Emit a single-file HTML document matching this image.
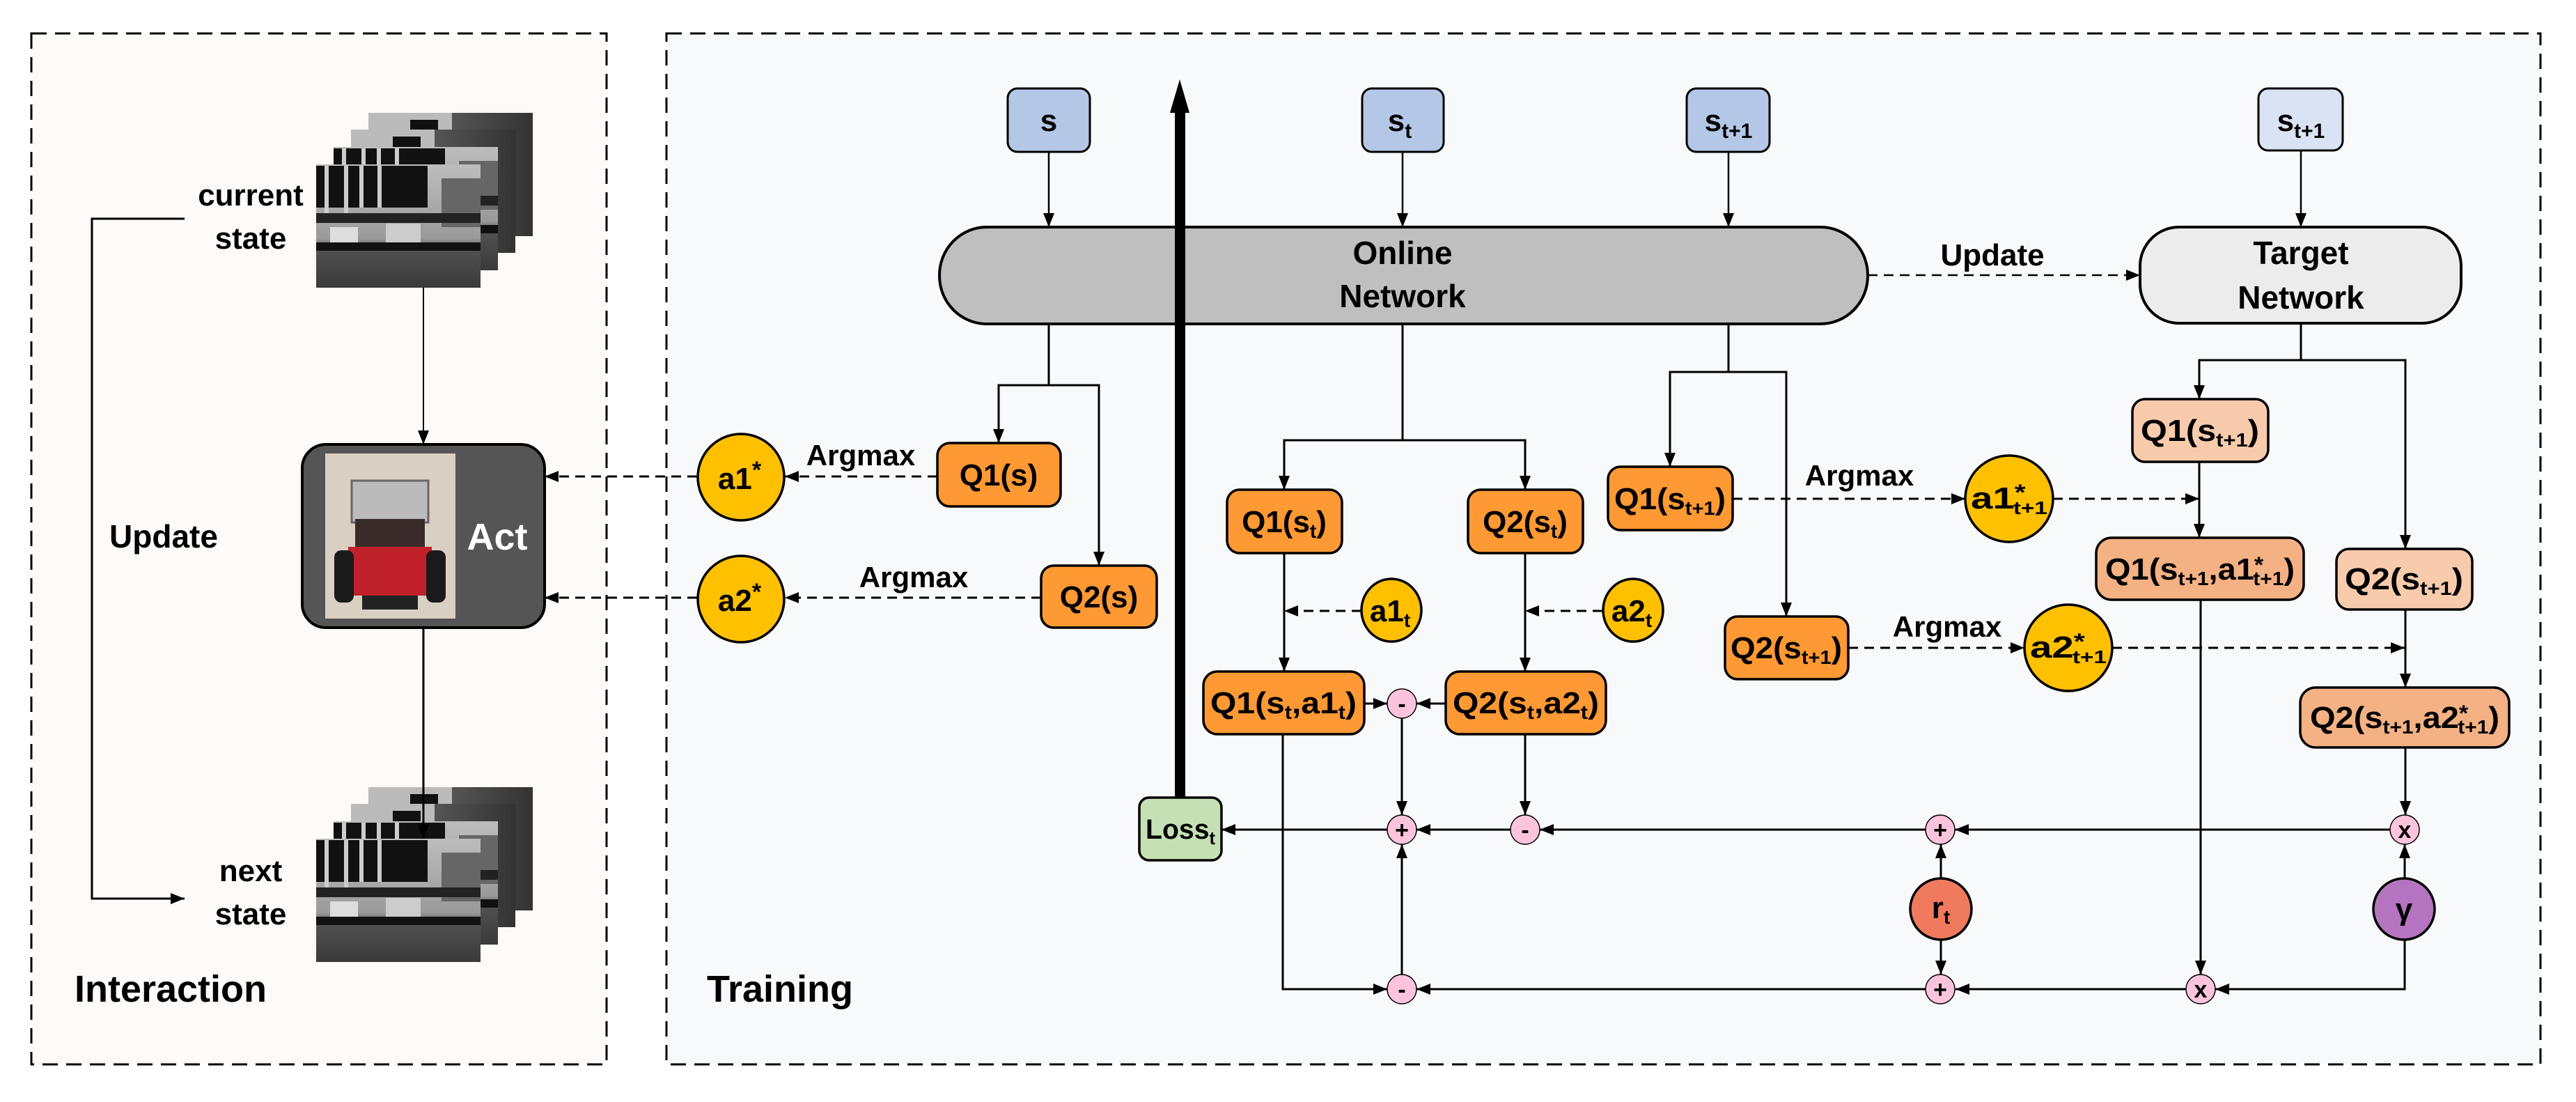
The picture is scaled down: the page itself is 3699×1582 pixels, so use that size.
<!DOCTYPE html>
<html><head><meta charset="utf-8"><style>html,body{margin:0;padding:0;background:#fff}svg{display:block}text{font-family:"Liberation Sans",sans-serif;font-weight:bold;fill:#000}</style></head><body>
<svg xmlns="http://www.w3.org/2000/svg" width="3699" height="1582" viewBox="0 0 3699 1582">
<defs>
<marker id="ah" viewBox="0 0 20 16" refX="20" refY="8" markerWidth="20" markerHeight="16" markerUnits="userSpaceOnUse" orient="auto"><path d="M0,0 L20,8 L0,16 z" fill="#000"/></marker>
<linearGradient id="fg" x1="0" y1="0" x2="0" y2="1"><stop offset="0" stop-color="#bdbdbd"/><stop offset="0.6" stop-color="#9a9a9a"/><stop offset="0.7" stop-color="#505050"/><stop offset="1" stop-color="#3a3a3a"/></linearGradient>
<linearGradient id="bg2" x1="0" y1="0" x2="1" y2="0"><stop offset="0" stop-color="#777"/><stop offset="1" stop-color="#333"/></linearGradient>
<g id="frame"><rect width="236" height="177" fill="url(#fg)"/><rect x="0" y="2" width="160" height="60" fill="#111"/><rect x="12" y="2" width="6" height="70" fill="#ccc"/><rect x="40" y="2" width="6" height="70" fill="#ccc"/><rect x="62" y="2" width="6" height="60" fill="#ccc"/><rect x="88" y="2" width="6" height="60" fill="#ccc"/><rect x="180" y="20" width="56" height="70" fill="#666"/><rect x="0" y="70" width="236" height="14" fill="#222"/><rect x="20" y="90" width="40" height="25" fill="#ddd"/><rect x="100" y="85" width="50" height="30" fill="#ccc"/><rect x="0" y="112" width="236" height="12" fill="#111"/></g>
<g id="back"><rect width="236" height="177" fill="url(#bg2)"/><rect width="120" height="60" fill="#bbb"/><rect x="60" y="10" width="40" height="15" fill="#111"/></g>
</defs>
<!-- panels -->
<rect x="45" y="48" width="826" height="1480" fill="#fdfaf7" stroke="#000" stroke-width="3" stroke-dasharray="22 12"/>
<rect x="957" y="48" width="2691" height="1480" fill="#f8f9fb" stroke="#000" stroke-width="3" stroke-dasharray="22 12"/>

<!-- state stacks -->
<use href="#back" x="529" y="162"/><use href="#back" x="504" y="186"/><use href="#frame" x="479" y="211"/><use href="#frame" x="454" y="236"/>
<use href="#back" x="529" y="1130"/><use href="#back" x="504" y="1154"/><use href="#frame" x="479" y="1179"/><use href="#frame" x="454" y="1204"/>
<text x="360" y="295" font-size="44" text-anchor="middle">current</text>
<text x="360" y="357" font-size="44" text-anchor="middle">state</text>
<text x="360" y="1265" font-size="44" text-anchor="middle">next</text>
<text x="360" y="1327" font-size="44" text-anchor="middle">state</text>
<text x="235" y="786" font-size="46" text-anchor="middle">Update</text>
<text x="245" y="1438" font-size="54" text-anchor="middle">Interaction</text>
<text x="1120" y="1438" font-size="54" text-anchor="middle">Training</text>
<polyline points="265,314 132,314 132,1290 265,1290" fill="none" stroke="#000" stroke-width="3" marker-end="url(#ah)"/>
<line x1="608" y1="413" x2="608" y2="638" stroke="#000" stroke-width="2" marker-end="url(#ah)"/>
<line x1="608" y1="901" x2="608" y2="1204" stroke="#000" stroke-width="3" marker-end="url(#ah)"/>
<!-- Act -->
<rect x="434" y="638" width="348" height="263" rx="34" fill="#555" stroke="#000" stroke-width="4"/>
<rect x="467" y="651" width="187" height="237" fill="#d9cfc3"/>
<rect x="505" y="690" width="110" height="60" fill="#bbb" stroke="#666" stroke-width="3"/>
<rect x="510" y="745" width="100" height="40" fill="#3a2a2a"/>
<rect x="500" y="785" width="120" height="70" fill="#c0202a"/>
<rect x="480" y="790" width="28" height="75" rx="10" fill="#1a1a1a"/>
<rect x="612" y="790" width="28" height="75" rx="10" fill="#1a1a1a"/>
<rect x="520" y="855" width="80" height="20" fill="#222"/>
<text x="714" y="789" font-size="54" text-anchor="middle" fill="#fff" style="fill:#fff">Act</text>

<!-- input boxes -->
<g stroke="#000" stroke-width="3">
<rect x="1447" y="127" width="118" height="91" rx="14" fill="#b4c7e7"/>
<rect x="1956" y="127" width="117" height="91" rx="14" fill="#b4c7e7"/>
<rect x="2422" y="127" width="119" height="91" rx="14" fill="#b4c7e7"/>
<rect x="3243" y="127" width="121" height="89" rx="14" fill="#dae3f3"/>
</g>
<text x="1506" y="188" font-size="44" text-anchor="middle">s</text>
<text x="2010" y="188" font-size="44" text-anchor="middle">s<tspan font-size="30" dy="10">t</tspan></text>
<text x="2482" y="188" font-size="44" text-anchor="middle">s<tspan font-size="30" dy="10">t+1</tspan></text>
<text x="3304" y="188" font-size="44" text-anchor="middle">s<tspan font-size="30" dy="10">t+1</tspan></text>

<g stroke="#000" stroke-width="2.5" fill="none">
<line x1="1506" y1="218" x2="1506" y2="326" marker-end="url(#ah)"/>
<line x1="2014" y1="218" x2="2014" y2="326" marker-end="url(#ah)"/>
<line x1="2482" y1="218" x2="2482" y2="326" marker-end="url(#ah)"/>
<line x1="3304" y1="216" x2="3304" y2="326" marker-end="url(#ah)"/>
</g>
<!-- networks -->
<rect x="1349" y="326" width="1333" height="139" rx="68" ry="69" fill="#bfbfbf" stroke="#000" stroke-width="4"/>
<rect x="3073" y="326" width="461" height="138" rx="56" fill="#ececec" stroke="#000" stroke-width="4"/>
<text x="2014" y="379" font-size="46" text-anchor="middle">Online</text>
<text x="2014" y="441" font-size="46" text-anchor="middle">Network</text>
<text x="3304" y="379" font-size="46" text-anchor="middle">Target</text>
<text x="3304" y="443" font-size="46" text-anchor="middle">Network</text>
<line x1="2682" y1="395" x2="3073" y2="395" stroke="#000" stroke-width="2.5" stroke-dasharray="14 9" marker-end="url(#ah)"/>
<text x="2861" y="381" font-size="44" text-anchor="middle">Update</text>

<!-- thick arrow -->
<rect x="1687" y="155" width="15" height="990" fill="#000"/>
<path d="M1680,162 L1694,114 L1708,162 z" fill="#000"/>

<!-- branches -->
<g stroke="#000" stroke-width="3" fill="none">
<polyline points="1506,465 1506,553 1434,553 1434,636" marker-end="url(#ah)"/>
<polyline points="1506,553 1578,553 1578,812" marker-end="url(#ah)"/>
<polyline points="2014,465 2014,632 1844,632 1844,703" marker-end="url(#ah)"/>
<polyline points="2014,632 2190,632 2190,703" marker-end="url(#ah)"/>
<polyline points="2482,465 2482,534 2398,534 2398,670" marker-end="url(#ah)"/>
<polyline points="2482,534 2565,534 2565,885" marker-end="url(#ah)"/>
<polyline points="3304,464 3304,517 3158,517 3158,573" marker-end="url(#ah)"/>
<polyline points="3304,517 3454,517 3454,788" marker-end="url(#ah)"/>
<line x1="1844" y1="794" x2="1844" y2="964" marker-end="url(#ah)"/>
<line x1="2190" y1="794" x2="2190" y2="964" marker-end="url(#ah)"/>
<line x1="3158" y1="663" x2="3158" y2="772" marker-end="url(#ah)"/>
<line x1="3454" y1="875" x2="3454" y2="987" marker-end="url(#ah)"/>
<line x1="3454" y1="1073" x2="3454" y2="1170" marker-end="url(#ah)"/>
<line x1="3160" y1="861" x2="3160" y2="1399" marker-end="url(#ah)"/>
<line x1="1959" y1="1010" x2="1992" y2="1010" marker-end="url(#ah)"/>
<line x1="2076" y1="1010" x2="2034" y2="1010" marker-end="url(#ah)"/>
<line x1="2013" y1="1031" x2="2013" y2="1170" marker-end="url(#ah)"/>
<line x1="2190" y1="1054" x2="2190" y2="1170" marker-end="url(#ah)"/>
<line x1="3432" y1="1191" x2="2807" y2="1191" marker-end="url(#ah)"/>
<line x1="2765" y1="1191" x2="2211" y2="1191" marker-end="url(#ah)"/>
<line x1="2169" y1="1191" x2="2034" y2="1191" marker-end="url(#ah)"/>
<line x1="1992" y1="1191" x2="1754" y2="1191" marker-end="url(#ah)"/>
<line x1="2787" y1="1261" x2="2787" y2="1212" marker-end="url(#ah)"/>
<line x1="2787" y1="1349" x2="2787" y2="1399" marker-end="url(#ah)"/>
<line x1="3453" y1="1261" x2="3453" y2="1212" marker-end="url(#ah)"/>
<polyline points="3453,1349 3453,1420 3181,1420" marker-end="url(#ah)"/>
<line x1="3139" y1="1420" x2="2808" y2="1420" marker-end="url(#ah)"/>
<line x1="2765" y1="1420" x2="2034" y2="1420" marker-end="url(#ah)"/>
<polyline points="1842,1054 1842,1420 1992,1420" marker-end="url(#ah)"/>
<line x1="2013" y1="1399" x2="2013" y2="1212" marker-end="url(#ah)"/>
</g>
<!-- dashed -->
<g stroke="#000" stroke-width="3" fill="none" stroke-dasharray="14 9">
<line x1="1346" y1="684" x2="1127" y2="684" marker-end="url(#ah)"/>
<line x1="1001" y1="684" x2="782" y2="684" marker-end="url(#ah)"/>
<line x1="1495" y1="858" x2="1127" y2="858" marker-end="url(#ah)"/>
<line x1="1001" y1="858" x2="782" y2="858" marker-end="url(#ah)"/>
<line x1="1955" y1="877" x2="1844" y2="877" marker-end="url(#ah)"/>
<line x1="2301" y1="877" x2="2190" y2="877" marker-end="url(#ah)"/>
<line x1="2488" y1="716" x2="2822" y2="716" marker-end="url(#ah)"/>
<line x1="2948" y1="716" x2="3158" y2="716" marker-end="url(#ah)"/>
<line x1="2654" y1="930" x2="2907" y2="930" marker-end="url(#ah)"/>
<line x1="3033" y1="930" x2="3453" y2="930" marker-end="url(#ah)"/>
</g>
<text x="1236" y="668" font-size="42" text-anchor="middle">Argmax</text>
<text x="1312" y="843" font-size="42" text-anchor="middle">Argmax</text>
<text x="2670" y="697" font-size="42" text-anchor="middle">Argmax</text>
<text x="2796" y="914" font-size="42" text-anchor="middle">Argmax</text>

<!-- Q nodes -->
<g stroke="#000" stroke-width="3.5">
<rect x="1346" y="636" width="177" height="91" rx="18" fill="#ff9933"/>
<rect x="1495" y="812" width="166" height="89" rx="18" fill="#ff9933"/>
<rect x="1762" y="703" width="165" height="91" rx="18" fill="#ff9933"/>
<rect x="2108" y="703" width="165" height="91" rx="18" fill="#ff9933"/>
<rect x="2309" y="670" width="179" height="91" rx="18" fill="#ff9933"/>
<rect x="2477" y="885" width="177" height="90" rx="18" fill="#ff9933"/>
<rect x="1728" y="964" width="231" height="90" rx="20" fill="#ff9933"/>
<rect x="2076" y="964" width="230" height="90" rx="20" fill="#ff9933"/>
<rect x="3062" y="573" width="195" height="90" rx="18" fill="#f8cbad"/>
<rect x="3010" y="772" width="298" height="89" rx="22" fill="#f4b183"/>
<rect x="3355" y="788" width="195" height="87" rx="18" fill="#f8cbad"/>
<rect x="3303" y="987" width="300" height="86" rx="22" fill="#f4b183"/>
<rect x="1636" y="1145" width="118" height="90" rx="14" fill="#c5e0b4"/>
<ellipse cx="1064" cy="685" rx="62" ry="62" fill="#ffc000"/>
<ellipse cx="1064" cy="860" rx="62" ry="62" fill="#ffc000"/>
<ellipse cx="1998" cy="876" rx="43" ry="45" fill="#ffc000"/>
<ellipse cx="2345" cy="876" rx="43" ry="45" fill="#ffc000"/>
<ellipse cx="2885" cy="716" rx="63" ry="62" fill="#ffc000"/>
<ellipse cx="2970" cy="930" rx="63" ry="62" fill="#ffc000"/>
<circle cx="2787" cy="1305" r="44" fill="#f07a5e"/>
<circle cx="3452" cy="1305" r="44" fill="#b574c0"/>
</g>
<g stroke="#000" stroke-width="1.5" fill="#fbc4dc">
<circle cx="2013" cy="1010" r="21"/><circle cx="2013" cy="1191" r="21"/><circle cx="2190" cy="1191" r="21"/>
<circle cx="2786" cy="1191" r="21"/><circle cx="3453" cy="1191" r="21"/><circle cx="2013" cy="1420" r="21"/>
<circle cx="2786" cy="1420" r="21"/><circle cx="3160" cy="1420" r="21"/>
</g>
<g font-size="34" text-anchor="middle">
<text x="2013" y="1022">-</text><text x="2013" y="1203">+</text><text x="2190" y="1203">-</text><text x="2786" y="1203">+</text>
<text x="3453" y="1203">x</text><text x="2013" y="1432">-</text><text x="2786" y="1432">+</text><text x="3160" y="1432">x</text>
</g>
<g font-size="44" text-anchor="middle">
<text x="1434" y="697">Q1(s)</text>
<text x="1578" y="872">Q2(s)</text>
<text x="1844" y="764">Q1(s<tspan font-size="28" dy="8">t</tspan><tspan dy="-8">)</tspan></text>
<text x="2190" y="764">Q2(s<tspan font-size="28" dy="8">t</tspan><tspan dy="-8">)</tspan></text>
<text x="2398" y="731" textLength="160" lengthAdjust="spacingAndGlyphs">Q1(s<tspan font-size="28" dy="8">t+1</tspan><tspan dy="-8">)</tspan></text>
<text x="2565" y="945" textLength="160" lengthAdjust="spacingAndGlyphs">Q2(s<tspan font-size="28" dy="8">t+1</tspan><tspan dy="-8">)</tspan></text>
<text x="1843" y="1024" textLength="210" lengthAdjust="spacingAndGlyphs">Q1(s<tspan font-size="28" dy="8">t</tspan><tspan dy="-8">,a1</tspan><tspan font-size="28" dy="8">t</tspan><tspan dy="-8">)</tspan></text>
<text x="2191" y="1024" textLength="210" lengthAdjust="spacingAndGlyphs">Q2(s<tspan font-size="28" dy="8">t</tspan><tspan dy="-8">,a2</tspan><tspan font-size="28" dy="8">t</tspan><tspan dy="-8">)</tspan></text>
<text x="3159" y="633" textLength="170" lengthAdjust="spacingAndGlyphs">Q1(s<tspan font-size="28" dy="8">t+1</tspan><tspan dy="-8">)</tspan></text>
<text x="3452" y="846" textLength="170" lengthAdjust="spacingAndGlyphs">Q2(s<tspan font-size="28" dy="8">t+1</tspan><tspan dy="-8">)</tspan></text>
<text x="3159" y="832" textLength="272" lengthAdjust="spacingAndGlyphs">Q1(s<tspan font-size="28" dy="8">t+1</tspan><tspan dy="-8">,a1</tspan><tspan font-size="32" dy="-10">*</tspan><tspan font-size="28" dy="18" dx="-14">t+1</tspan><tspan dy="-8">)</tspan></text>
<text x="3453" y="1045" textLength="272" lengthAdjust="spacingAndGlyphs">Q2(s<tspan font-size="28" dy="8">t+1</tspan><tspan dy="-8">,a2</tspan><tspan font-size="32" dy="-10">*</tspan><tspan font-size="28" dy="18" dx="-14">t+1</tspan><tspan dy="-8">)</tspan></text>
<text x="1695" y="1204" font-size="40" textLength="100" lengthAdjust="spacingAndGlyphs">Loss<tspan font-size="26" dy="8">t</tspan></text>
<text x="1062" y="702">a1<tspan font-size="34" dy="-16">*</tspan></text>
<text x="1062" y="877">a2<tspan font-size="34" dy="-16">*</tspan></text>
<text x="1996" y="892">a1<tspan font-size="28" dy="8">t</tspan></text>
<text x="2343" y="892">a2<tspan font-size="28" dy="8">t</tspan></text>
<text x="2885" y="730" textLength="110" lengthAdjust="spacingAndGlyphs">a1<tspan font-size="32" dy="-12">*</tspan><tspan font-size="26" dy="20" dx="-14">t+1</tspan></text>
<text x="2970" y="944" textLength="110" lengthAdjust="spacingAndGlyphs">a2<tspan font-size="32" dy="-12">*</tspan><tspan font-size="26" dy="20" dx="-14">t+1</tspan></text>
<text x="2787" y="1318">r<tspan font-size="28" dy="8">t</tspan></text>
<text x="3452" y="1320">γ</text>
</g>
</svg>
</body></html>
